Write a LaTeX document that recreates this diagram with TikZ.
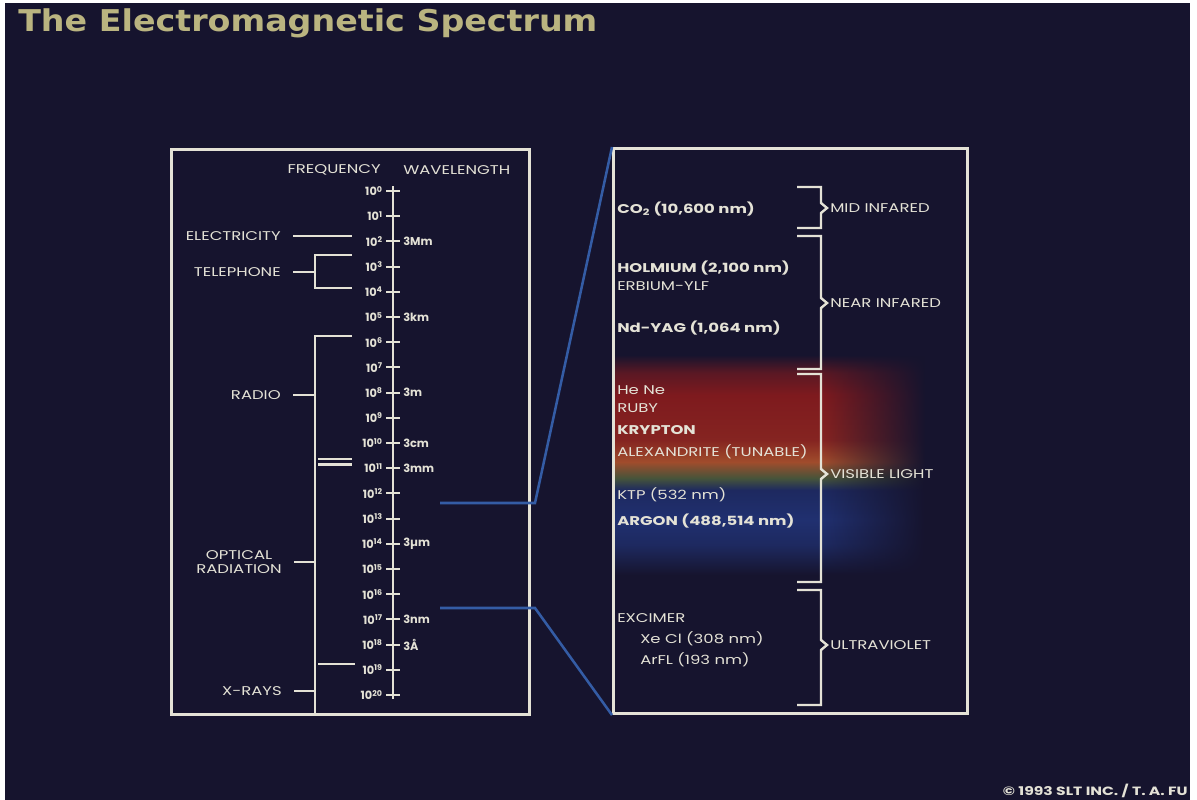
\documentclass[tikz,border=0pt]{standalone}
\usepackage{fontspec}
\newfontfamily\labelfont{Poppins}[FakeStretch=1.3]
\newfontfamily\numfont{Poppins}
\newfontfamily\headfont{DejaVu Sans}[FakeStretch=1.11]
\usepackage{tikz}
\usetikzlibrary{positioning, fadings, calc}
\definecolor{slate}{RGB}{22,20,46}
\definecolor{chalk}{RGB}{228,226,214}
\definecolor{khaki}{RGB}{186,180,128}
\definecolor{linkblue}{RGB}{52,92,165}
\definecolor{ruby}{RGB}{126,26,30}
\definecolor{flame}{RGB}{160,76,44}
\definecolor{moss}{RGB}{70,84,58}
\definecolor{argon}{RGB}{32,48,112}
\pgfdeclareverticalshading{spectrum}{100bp}{color(0bp)=(slate); color(25bp)=(slate);
  color(31.8bp)=(argon!75!slate); color(37.5bp)=(argon); color(44.3bp)=(argon!75!slate);
  color(47bp)=(moss); color(50.7bp)=(flame); color(55.7bp)=(ruby!80!flame);
  color(65.9bp)=(ruby); color(71bp)=(ruby!65!slate); color(75bp)=(slate); color(100bp)=(slate)}
\tikzfading[name=fadeout, left color=transparent!0, right color=transparent!100]

\begin{document}
\begin{tikzpicture}[x=0.75pt, y=-0.75pt,
  frame/.style={draw=chalk, line width=2.3pt, inner sep=0pt},
  rule/.style={draw=chalk, line width=1.8pt},
  tick/.style={draw=chalk, line width=1.4pt},
  link/.style={draw=linkblue, line width=1.9pt},
  lbl/.style={text=chalk, inner sep=0pt, font=\labelfont\fontsize{9.5}{11}\selectfont},
  kind/.style={lbl, anchor=east},
  band/.style={lbl, anchor=west},
  power/.style={kind, font=\numfont\bfseries\fontsize{8.5}{10}\selectfont},
  wave/.style={band, font=\numfont\bfseries\fontsize{8.5}{10}\selectfont},
  laser/.style={lbl, anchor=west},
  laserb/.style={laser, font=\labelfont\bfseries\fontsize{9.5}{11}\selectfont},
]
  % backdrop
  \fill[white] (0,0) rectangle (1197,800);
  \fill[slate] (5,3) rectangle (1190,800);
  \useasboundingbox (0,0) rectangle (1197,800);

  \node[anchor=west, inner sep=0pt, text=khaki,
        font=\headfont\bfseries\fontsize{22.5}{26}\selectfont] (title) at (18,23) {The Electromagnetic Spectrum};

  % visible band colours
  \shade[shading=spectrum] (612,355) rectangle (822,575);
  \shade[shading=spectrum, path fading=fadeout] (822,355) rectangle (925,575);

  % panels
  \node[frame, anchor=north west, minimum width=268.5pt, minimum height=423.75pt] (freqbox) at (170,148) {};
  \node[frame, anchor=north west, minimum width=265.5pt, minimum height=423.75pt] (laserbox) at (612,147) {};

  % frequency scale
  \node[kind] (freqhead) at (381,170) {FREQUENCY};
  \node[band] (wavehead) at (403,170) {WAVELENGTH};
  \draw[rule] (393,186) -- (393,699);
  \foreach \n in {0,...,20} {
    \draw[tick] (386,{191+25.2*\n}) -- (400,{191+25.2*\n});
    \node[power] (f\n) at (383,{191+25.2*\n}) {10\textsuperscript{\n}};
  }
  \foreach \n/\w in {2/3Mm, 5/3km, 8/3m, 10/3cm, 11/3mm, 14/3µm, 17/3nm, 18/3Å}
    \node[wave] (w\n) at (403,{191+25.2*\n}) {\w};

  % kinds of radiation
  \coordinate (spine) at (315,336);
  \node[kind] (elec) at (281,236) {ELECTRICITY};
  \node[kind] (tel) at (281,272) {TELEPHONE};
  \node[kind] (radio) at (281,395) {RADIO};
  \node[kind, align=center] (optical) at (282,562) {OPTICAL\\RADIATION};
  \node[kind] (xrays) at (282,691) {X-RAYS};

  \draw[rule] ([xshift=9pt]elec.east) -- (352,236);
  \draw[rule] (352,255) -- (315,255) -- (315,288) -- (352,288);
  \draw[rule] ([xshift=9pt]tel.east) -- (315,272);
  \draw[rule] (352,336) -- (spine) -- (freqbox.south west -| spine);
  \draw[rule] (318,459) -- (352,459);
  \draw[rule] (318,464.5) -- (352,464.5);
  \draw[rule] (318,664) -- (355,664);
  \foreach \k in {radio, optical, xrays}
    \draw[rule] ([xshift=9pt]\k.east) -- (\k.east -| spine);

  % zoom lines
  \coordinate (linkhi) at (440,503);
  \coordinate (linklo) at (440,608);
  \draw[link] (linkhi) -- ++(95,0) -- (laserbox.north west);
  \draw[link] (linklo) -- ++(95,0) -- (laserbox.south west);

  % lasers
  \node[laserb] (co2) at (617,209) {CO\textsubscript{2} (10,600 nm)};
  \node[laserb] (holmium) at (617,268) {HOLMIUM (2,100 nm)};
  \node[laser] (erbium) at (617,286) {ERBIUM-YLF};
  \node[laserb] (ndyag) at (617,328) {Nd-YAG (1,064 nm)};
  \node[laser] (hene) at (617,390) {He Ne};
  \node[laser] (ruby) at (617,408) {RUBY};
  \node[laserb] (krypton) at (617,430) {KRYPTON};
  \node[laser] (alex) at (617,452) {ALEXANDRITE (TUNABLE)};
  \node[laser] (ktp) at (617,495) {KTP (532 nm)};
  \node[laserb] (argon) at (617,521) {ARGON (488,514 nm)};
  \node[laser] (excimer) at (617,618) {EXCIMER};
  \node[laser] (xecl) at (640,639) {Xe Cl (308 nm)};
  \node[laser] (arf) at (640,660) {ArFL (193 nm)};

  % bands
  \foreach \top/\mid/\bot/\name/\txt in {187/208/228/mid/MID INFARED, 236/303/369/near/NEAR INFARED,
      374/474/582/vis/VISIBLE LIGHT, 590/645/705/uv/ULTRAVIOLET} {
    \draw[rule] (797,\top) -- (821,\top) -- (821,{\mid-5}) -- (827,\mid) -- (821,{\mid+5}) -- (821,\bot) -- (797,\bot);
    \node[band] (\name) at (830,\mid) {\txt};
  }

  \node[anchor=south east, inner sep=0pt, text=chalk,
        font=\labelfont\bfseries\fontsize{9}{10}\selectfont] (credit) at (1188,798) {© 1993 SLT INC. / T. A. FU};
\end{tikzpicture}
\end{document}
